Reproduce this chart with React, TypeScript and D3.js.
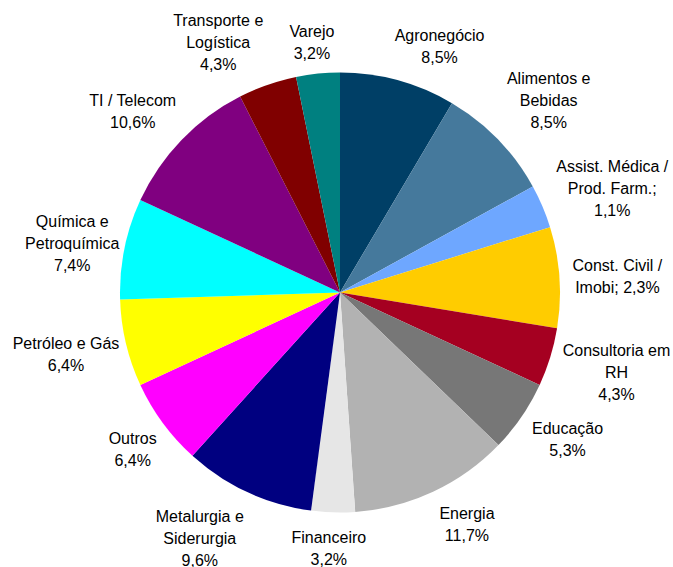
import React from "react";
import * as d3 from "d3";

const categories = [
  "Agronegócio",
  "Alimentos e Bebidas",
  "Assist. Médica / Prod. Farm.",
  "Const. Civil / Imobi",
  "Consultoria em RH",
  "Educação",
  "Energia",
  "Financeiro",
  "Metalurgia e Siderurgia",
  "Outros",
  "Petróleo e Gás",
  "Química e Petroquímica",
  "TI / Telecom",
  "Transporte e Logística",
  "Varejo",
];

// slice sizes
const values = [8.5, 8.5, 3.2, 7.4, 4.3, 5.3, 11.7, 3.2, 9.6, 6.4, 6.4, 7.4, 10.6, 4.3, 3.2];

// label text exactly as printed in the chart
const labelLines: string[][] = [
  ["Agronegócio", "8,5%"],
  ["Alimentos e", "Bebidas", "8,5%"],
  ["Assist. Médica /", "Prod. Farm.;", "1,1%"],
  ["Const. Civil /", "Imobi; 2,3%"],
  ["Consultoria em", "RH", "4,3%"],
  ["Educação", "5,3%"],
  ["Energia", "11,7%"],
  ["Financeiro", "3,2%"],
  ["Metalurgia e", "Siderurgia", "9,6%"],
  ["Outros", "6,4%"],
  ["Petróleo e Gás", "6,4%"],
  ["Química e", "Petroquímica", "7,4%"],
  ["TI / Telecom", "10,6%"],
  ["Transporte e", "Logística", "4,3%"],
  ["Varejo", "3,2%"],
];

const colors = [
  "#003F66",
  "#45799C",
  "#6EA7FF",
  "#FFCC00",
  "#A50021",
  "#777777",
  "#B2B2B2",
  "#E6E6E6",
  "#000080",
  "#FF00FF",
  "#FFFF00",
  "#00FFFF",
  "#800080",
  "#800000",
  "#008080",
];

// layout: small per-label nudges (px) from the default outside position
const labelNudge: [number, number][] = [
  [31, 5],
  [22, -11],
  [33, -2],
  [18, 2],
  [28, 4],
  [13, 0],
  [17, -4],
  [-3, -4],
  [-31, 10],
  [2, 3],
  [-21, 2],
  [-13, 3],
  [-20, -1],
  [-36, -5],
  [-2, 9],
];

const W = 673;
const H = 567;
const CX = 340;
const CY = 292.5;
const R = 220;
const LABEL_R = 260;
const LINE_H = 22;

export default function App() {
  const pie = d3
    .pie<number>()
    .sort(null)
    .value((d) => d)
    .startAngle(0)
    .endAngle(2 * Math.PI);
  const arcs = pie(values);
  const arc = d3.arc<d3.PieArcDatum<number>>().innerRadius(0).outerRadius(R);

  return (
    <svg
      width={W}
      height={H}
      style={{ position: "absolute", left: 0, top: 0, background: "#fff" }}
      fontFamily="'Liberation Sans', Arial, sans-serif"
      fontSize={16}
    >
      <rect width={W} height={H} fill="#fff" />
      <g transform={`translate(${CX},${CY})`}>
        {arcs.map((a, i) => (
          <path key={categories[i]} d={arc(a) || ""} fill={colors[i]} />
        ))}
        {arcs.map((a, i) => {
          const mid = (a.startAngle + a.endAngle) / 2;
          const x = LABEL_R * Math.sin(mid) + labelNudge[i][0];
          const y = -LABEL_R * Math.cos(mid) + labelNudge[i][1];
          const lines = labelLines[i];
          const y0 = y - ((lines.length - 1) * LINE_H) / 2;
          return (
            <text key={"l" + i} textAnchor="middle" fill="#000">
              {lines.map((ln, j) => (
                <tspan key={j} x={x} y={y0 + j * LINE_H} dominantBaseline="central">
                  {ln}
                </tspan>
              ))}
            </text>
          );
        })}
      </g>
    </svg>
  );
}
